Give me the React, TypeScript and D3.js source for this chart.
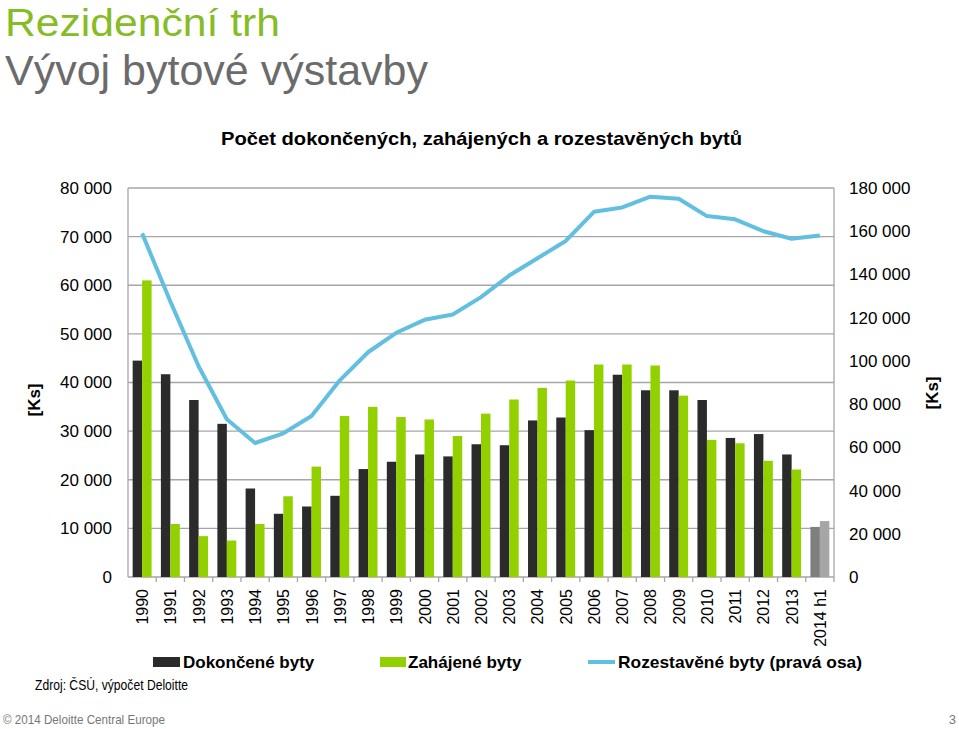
import React from 'react';
import * as d3 from 'd3';

const years = [
  '1990', '1991', '1992', '1993', '1994', '1995', '1996', '1997', '1998', '1999',
  '2000', '2001', '2002', '2003', '2004', '2005', '2006', '2007', '2008', '2009',
  '2010', '2011', '2012', '2013', '2014 h1'
];

// Dokončené byty (left axis)
const completed = [
  44500, 41700, 36400, 31500, 18200, 13000, 14500, 16700, 22200, 23700,
  25200, 24800, 27300, 27100, 32200, 32800, 30200, 41600, 38400, 38400,
  36400, 28600, 29400, 25200, 10300
];

// Zahájené byty (left axis)
const started = [
  61000, 10900, 8400, 7500, 10900, 16600, 22700, 33100, 35000, 32900,
  32400, 29000, 33600, 36500, 38900, 40400, 43700, 43700, 43500, 37300,
  28200, 27500, 23900, 22100, 11500
];

// Rozestavěné byty (right axis)
const underConstruction = [
  159000, 127500, 97500, 73000, 62000, 66500, 74500, 91000, 104000, 113000,
  119000, 121500, 129500, 139500, 147500, 155500, 169000, 171000, 176000, 175000,
  167000, 165500, 160000, 156500, 158000
];

const leftTicks = [0, 10000, 20000, 30000, 40000, 50000, 60000, 70000, 80000];
const rightTicks = [0, 20000, 40000, 60000, 80000, 100000, 120000, 140000, 160000, 180000];

const W = 959;
const H = 729;
const plot = { left: 128, right: 834, top: 188, bottom: 577 };

const FONT = "'Liberation Sans', Arial, Helvetica, sans-serif";
const fmt = (v: number) => (v === 0 ? '0' : d3.format(',')(v).replace(/,/g, ' '));

const App = () => {
  const x0 = d3.scaleBand<string>()
    .domain(years)
    .range([plot.left, plot.right])
    .paddingInner(0.33)
    .paddingOuter(0.165);
  const x1 = d3.scaleBand<string>()
    .domain(['completed', 'started'])
    .range([0, x0.bandwidth()]);
  const yL = d3.scaleLinear().domain([0, 80000]).range([plot.bottom, plot.top]);
  const yR = d3.scaleLinear().domain([0, 180000]).range([plot.bottom, plot.top]);

  const line = d3.line<number>()
    .x((_, i) => (x0(years[i]) as number) + x0.bandwidth() / 2)
    .y(d => yR(d));

  const last = years.length - 1;
  const step = x0.step();

  return (
    <svg width={W} height={H} style={{ position: 'absolute', left: 0, top: 0, background: '#fff' }}
      fontFamily={FONT}>
      {/* page titles */}
      <text x={5} y={36} fontSize={39} fill="#86bc25" textLength={275} lengthAdjust="spacingAndGlyphs">Rezidenční trh</text>
      <text x={5} y={85} fontSize={42} fill="#6b6b6b" textLength={423} lengthAdjust="spacingAndGlyphs">Vývoj bytové výstavby</text>
      <text x={221} y={145} fontSize={19} fontWeight="bold" fill="#000" textLength={521} lengthAdjust="spacingAndGlyphs">
        Počet dokončených, zahájených a rozestavěných bytů
      </text>

      {/* grid */}
      {leftTicks.map(t => (
        <line key={t} x1={plot.left} x2={plot.right} y1={yL(t)} y2={yL(t)} stroke="#a6a6a6" strokeWidth={1.3} />
      ))}
      <line x1={plot.left} x2={plot.left} y1={plot.top} y2={plot.bottom} stroke="#a6a6a6" strokeWidth={1.3} />
      <line x1={plot.right} x2={plot.right} y1={plot.top} y2={plot.bottom} stroke="#a6a6a6" strokeWidth={1.3} />
      {years.map((_, i) => (
        <line key={i} x1={plot.left + (i + 1) * step} x2={plot.left + (i + 1) * step}
          y1={plot.bottom} y2={plot.bottom + 5} stroke="#a6a6a6" strokeWidth={1.3} />
      ))}

      {/* bars */}
      {years.map((yr, i) => (
        <g key={yr} transform={`translate(${x0(yr)},0)`}>
          <rect x={x1('completed')} y={yL(completed[i])} width={x1.bandwidth()}
            height={plot.bottom - yL(completed[i])} fill={i === last ? '#7f7f7f' : '#2b2b2b'} />
          <rect x={x1('started')} y={yL(started[i])} width={x1.bandwidth()}
            height={plot.bottom - yL(started[i])} fill={i === last ? '#a6a6a6' : '#92d000'} />
        </g>
      ))}

      {/* line */}
      <path d={line(underConstruction) || ''} fill="none" stroke="#62bfe0" strokeWidth={4}
        strokeLinejoin="round" />

      {/* left axis */}
      {leftTicks.map(t => (
        <text key={t} x={112} y={yL(t)} dy="0.35em" fontSize={17} textAnchor="end" fill="#000">{fmt(t)}</text>
      ))}
      <text transform={`translate(40,400) rotate(-90)`} fontSize={17} fontWeight="bold" textAnchor="middle">[Ks]</text>

      {/* right axis */}
      {rightTicks.map(t => (
        <text key={t} x={849} y={yR(t)} dy="0.35em" fontSize={17} textAnchor="start" fill="#000">{fmt(t)}</text>
      ))}
      <text transform={`translate(938,393) rotate(-90)`} fontSize={17} fontWeight="bold" textAnchor="middle">[Ks]</text>

      {/* x labels */}
      {years.map(yr => (
        <text key={yr} transform={`translate(${(x0(yr) as number) + x0.bandwidth() / 2 + 6},589) rotate(-90)`}
          fontSize={16} textAnchor="end" fill="#000">{yr}</text>
      ))}

      {/* legend */}
      <rect x={153} y={657} width={27} height={10} fill="#2b2b2b" />
      <text x={183} y={668} fontSize={17} fontWeight="bold">Dokončené byty</text>
      <rect x={380} y={657} width={26} height={10} fill="#92d000" />
      <text x={408} y={668} fontSize={17} fontWeight="bold">Zahájené byty</text>
      <line x1={588} x2={615} y1={662} y2={662} stroke="#62bfe0" strokeWidth={4} />
      <text x={618} y={668} fontSize={17} fontWeight="bold" textLength={244} lengthAdjust="spacingAndGlyphs">Rozestavěné byty (pravá osa)</text>

      {/* source + footer */}
      <text x={35} y={690} fontSize={14} textLength={153} lengthAdjust="spacingAndGlyphs">Zdroj: ČSÚ, výpočet Deloitte</text>
      <text x={3} y={724} fontSize={13} fill="#777" textLength={162} lengthAdjust="spacingAndGlyphs">© 2014 Deloitte Central Europe</text>
      <text x={956} y={724} fontSize={13} fill="#777" textAnchor="end">3</text>
    </svg>
  );
};

export default App;
